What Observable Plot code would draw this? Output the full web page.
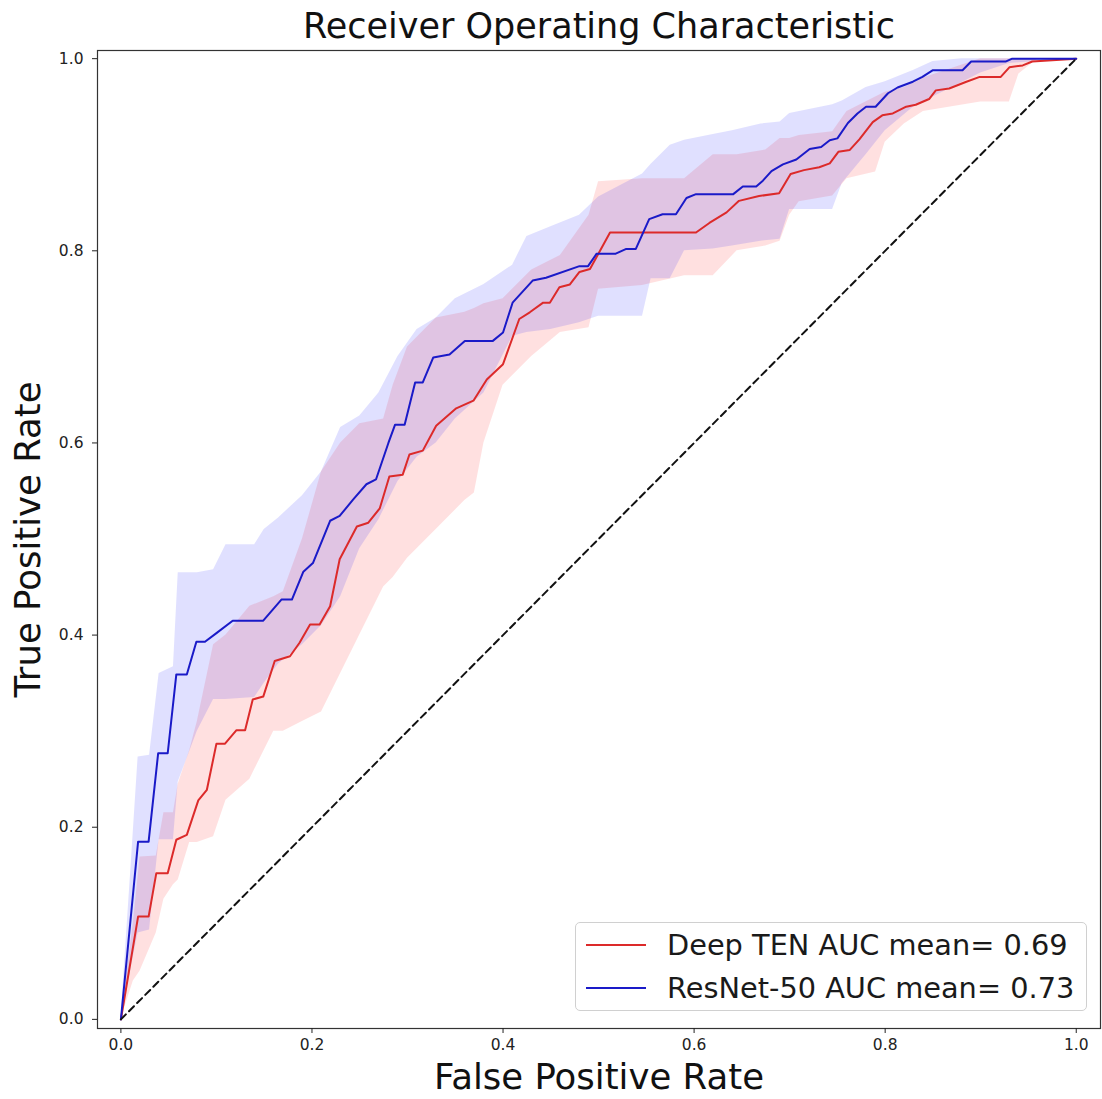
<!DOCTYPE html>
<html>
<head>
<meta charset="utf-8">
<script src="https://cdn.jsdelivr.net/npm/d3@7"></script>
<script src="https://cdn.jsdelivr.net/npm/@observablehq/plot@0.6"></script>
<style>
  body { margin: 0; background: #fff; font-family: "DejaVu Sans", sans-serif; }
  #wrap { position: relative; width: 1102px; height: 1099px; }
  #legend { position: absolute; left: 575px; top: 922px; width: 512px; height: 89px;
    border: 1px solid #d0d0d0; border-radius: 5px; background: rgba(255,255,255,0.85); box-sizing: border-box; }
  .row { position: absolute; left: 0; height: 40px; display: flex; align-items: center; }
  .sw { width: 60px; height: 0; border-top: 2px solid; margin-left: 10px; margin-right: 21px; }
  .lt { font-size: 28.8px; color: #1a1a1a; white-space: nowrap; }
</style>
</head>
<body>
<div id="wrap"></div>
<script>
// ---- data ----
const seriesNames = ["Deep TEN AUC mean= 0.69", "ResNet-50 AUC mean= 0.73"];
const seriesColors = ["#dc2a2a", "#1a1ac8"];

const redX = [0,0.018,0.029,0.037,0.049,0.058,0.069,0.081,0.090,0.100,0.109,0.121,0.130,0.138,0.149,0.161,0.177,0.187,0.198,0.208,0.219,0.229,0.247,0.259,0.271,0.281,0.295,0.302,0.316,0.330,0.351,0.369,0.383,0.400,0.417,0.428,0.442,0.449,0.459,0.470,0.480,0.491,0.512,0.602,0.616,0.634,0.647,0.668,0.689,0.701,0.715,0.731,0.742,0.751,0.763,0.773,0.787,0.797,0.808,0.822,0.832,0.846,0.853,0.867,0.885,0.899,0.921,0.930,0.944,0.954,1.0];
const redY = [0,0.107,0.107,0.152,0.152,0.187,0.192,0.228,0.239,0.287,0.287,0.301,0.301,0.333,0.336,0.373,0.378,0.392,0.411,0.411,0.430,0.479,0.513,0.517,0.532,0.565,0.567,0.588,0.592,0.618,0.636,0.644,0.666,0.682,0.729,0.736,0.746,0.746,0.762,0.765,0.778,0.781,0.819,0.819,0.829,0.840,0.852,0.857,0.860,0.880,0.884,0.887,0.891,0.903,0.905,0.916,0.934,0.941,0.943,0.950,0.952,0.958,0.967,0.969,0.976,0.981,0.981,0.991,0.993,0.997,1.0];

const blueX = [0,0.018,0.029,0.039,0.049,0.058,0.069,0.079,0.088,0.100,0.117,0.149,0.168,0.179,0.191,0.201,0.219,0.229,0.243,0.257,0.267,0.280,0.287,0.297,0.308,0.316,0.327,0.344,0.360,0.389,0.400,0.410,0.431,0.445,0.480,0.489,0.498,0.518,0.529,0.539,0.553,0.567,0.581,0.592,0.602,0.641,0.651,0.665,0.672,0.681,0.693,0.707,0.721,0.733,0.742,0.750,0.761,0.771,0.780,0.790,0.803,0.813,0.829,0.839,0.850,0.881,0.890,0.926,0.933,1.0];
const blueY = [0,0.185,0.185,0.277,0.277,0.359,0.359,0.393,0.393,0.402,0.415,0.415,0.437,0.437,0.466,0.475,0.519,0.524,0.541,0.557,0.562,0.600,0.619,0.619,0.663,0.663,0.689,0.692,0.706,0.706,0.715,0.746,0.769,0.772,0.784,0.784,0.797,0.797,0.802,0.802,0.833,0.838,0.838,0.855,0.859,0.859,0.867,0.867,0.873,0.883,0.890,0.895,0.906,0.908,0.915,0.917,0.933,0.943,0.950,0.950,0.964,0.970,0.976,0.981,0.988,0.988,0.997,0.997,1.0,1.0];

const redBandX = [0,0.013,0.02,0.037,0.045,0.055,0.06,0.072,0.08,0.097,0.11,0.135,0.16,0.17,0.19,0.21,0.23,0.25,0.275,0.285,0.30,0.33,0.36,0.37,0.38,0.40,0.43,0.46,0.49,0.50,0.546,0.59,0.62,0.645,0.675,0.69,0.70,0.71,0.745,0.76,0.79,0.80,0.82,0.84,0.90,0.93,0.94,0.96,1.0];
const redLo = [0,0.04,0.05,0.09,0.125,0.14,0.145,0.184,0.184,0.19,0.228,0.25,0.30,0.30,0.31,0.32,0.36,0.40,0.45,0.46,0.48,0.51,0.54,0.548,0.60,0.66,0.69,0.715,0.72,0.76,0.764,0.774,0.774,0.80,0.805,0.81,0.837,0.851,0.857,0.875,0.882,0.913,0.932,0.945,0.955,0.955,0.984,1.0,1.0];
const redHi = [0,0.10,0.169,0.17,0.215,0.215,0.245,0.28,0.31,0.39,0.40,0.43,0.44,0.445,0.50,0.57,0.60,0.62,0.625,0.66,0.70,0.73,0.736,0.74,0.745,0.75,0.78,0.795,0.837,0.872,0.875,0.875,0.90,0.90,0.905,0.917,0.917,0.92,0.924,0.945,0.96,0.965,0.97,0.98,1.0,1.0,1.0,1.0,1.0];

const blueBandX = [0,0.01,0.018,0.03,0.04,0.055,0.06,0.08,0.097,0.11,0.14,0.15,0.165,0.19,0.21,0.23,0.25,0.27,0.29,0.31,0.33,0.35,0.38,0.41,0.425,0.45,0.48,0.5,0.546,0.555,0.575,0.59,0.62,0.64,0.67,0.69,0.70,0.745,0.755,0.78,0.80,0.83,0.85,0.88,0.90,0.93,1.0];
const blueLo = [0,0.05,0.09,0.093,0.187,0.187,0.247,0.30,0.333,0.333,0.335,0.35,0.37,0.39,0.41,0.44,0.49,0.52,0.56,0.585,0.60,0.625,0.652,0.711,0.715,0.718,0.725,0.732,0.732,0.771,0.771,0.80,0.802,0.805,0.81,0.812,0.843,0.843,0.87,0.90,0.925,0.95,0.96,0.975,0.985,0.995,1.0];
const blueHi = [0,0.15,0.273,0.275,0.36,0.367,0.465,0.465,0.468,0.494,0.494,0.51,0.522,0.545,0.57,0.616,0.628,0.652,0.69,0.718,0.73,0.75,0.765,0.785,0.815,0.825,0.837,0.856,0.88,0.89,0.91,0.915,0.921,0.925,0.932,0.934,0.943,0.952,0.956,0.97,0.976,0.988,0.997,1.0,1.0,1.0,1.0];

const diagX = [0, 1];
const diagY = [0, 1];
const tickValues = [0, 0.2, 0.4, 0.6, 0.8, 1.0];

// ---- build tables ----
const toRows = (xs, ys) => xs.map((x, i) => ({x, y: ys[i]}));
const toBand = (xs, lo, hi) => xs.map((x, i) => ({x, lo: lo[i], hi: hi[i]}));
const red = toRows(redX, redY), blue = toRows(blueX, blueY), diag = toRows(diagX, diagY);
const redBand = toBand(redBandX, redLo, redHi), blueBand = toBand(blueBandX, blueLo, blueHi);

const chart = Plot.plot({
  width: 1102, height: 1099,
  marginLeft: 97, marginRight: 2, marginTop: 50, marginBottom: 71,
  x: {domain: [-0.0245, 1.0254]},
  y: {domain: [-0.0095, 1.0085]},
  style: {fontFamily: "DejaVu Sans", background: "white", color: "#222"},
  marks: [
    Plot.areaY(redBand, {x: "x", y1: "lo", y2: "hi", fill: "red", fillOpacity: 0.12}),
    Plot.areaY(blueBand, {x: "x", y1: "lo", y2: "hi", fill: "blue", fillOpacity: 0.12}),
    Plot.line(red, {x: "x", y: "y", stroke: seriesColors[0], strokeWidth: 2}),
    Plot.line(blue, {x: "x", y: "y", stroke: seriesColors[1], strokeWidth: 2}),
    Plot.line(diag, {x: "x", y: "y", stroke: "#111", strokeWidth: 2, strokeDasharray: "7,4.5"}),
    Plot.frame({stroke: "#333", strokeWidth: 1.2}),
    Plot.axisX({ticks: tickValues, tickFormat: d => d.toFixed(1), tickSize: 5, tickPadding: 5, fontSize: 15.5, label: null}),
    Plot.axisY({ticks: tickValues, tickFormat: d => d.toFixed(1), tickSize: 5, tickPadding: 9, fontSize: 15.5, label: null}),
    Plot.text(["Receiver Operating Characteristic"], {frameAnchor: "top", dy: -24, fontSize: 35, textAnchor: "middle", lineAnchor: "middle", fill: "#111"}),
    Plot.text(["False Positive Rate"], {frameAnchor: "bottom", dy: 49, fontSize: 35.5, textAnchor: "middle", lineAnchor: "middle", fill: "#111"}),
    Plot.text(["True Positive Rate"], {frameAnchor: "left", dx: -69, rotate: -90, fontSize: 35.5, textAnchor: "middle", lineAnchor: "middle", fill: "#111"})
  ]
});

const wrap = document.getElementById("wrap");
wrap.appendChild(chart);

const legend = document.createElement("div");
legend.id = "legend";
seriesNames.forEach((name, i) => {
  const row = document.createElement("div");
  row.className = "row";
  row.style.top = (i === 0 ? 2 : 45) + "px";
  const sw = document.createElement("div");
  sw.className = "sw";
  sw.style.borderTopColor = seriesColors[i];
  const t = document.createElement("span");
  t.className = "lt";
  t.textContent = name;
  row.appendChild(sw);
  row.appendChild(t);
  legend.appendChild(row);
});
wrap.appendChild(legend);
</script>
</body>
</html>
